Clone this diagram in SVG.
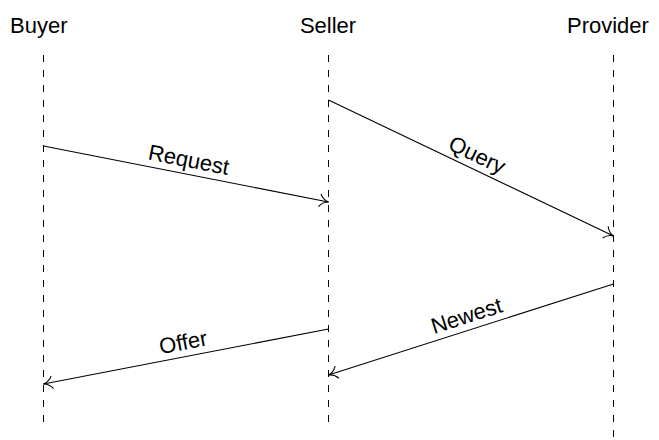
<svg xmlns="http://www.w3.org/2000/svg" width="659" height="440" viewBox="0 0 659 440">
<style>
.title{font-family:"Liberation Sans",Arial,sans-serif;font-size:22px;fill:#000}
.lbl{font-family:"Liberation Sans",Arial,sans-serif;font-size:22px;fill:#000;text-anchor:middle}
.life{stroke:#000;stroke-width:1;stroke-dasharray:7 8;fill:none}
.msg{stroke:#000;stroke-width:1.1;fill:none;marker-end:url(#to)}
</style>
<defs>
<marker id="to" markerUnits="userSpaceOnUse" viewBox="-12 -8 14 16" refX="0" refY="0" markerWidth="14" markerHeight="16" orient="auto" overflow="visible">
<path d="M -9,-6.5 C -7,-3 -3,-0.6 0,0 C -3,0.6 -7,3 -9,6.5" fill="none" stroke="#000" stroke-width="1.1"/>
</marker>
</defs>
<rect width="659" height="440" fill="#fff"/>
<g id="buyer">
<text class="title" x="10" y="33">Buyer</text>
<line class="life" x1="43.5" y1="55" x2="43.5" y2="429"/>
</g>
<g id="seller">
<text class="title" x="328" y="33" text-anchor="middle">Seller</text>
<line class="life" x1="328.5" y1="55" x2="328.5" y2="429"/>
</g>
<g id="provider">
<text class="title" x="567" y="33">Provider</text>
<line class="life" x1="613.5" y1="55" x2="613.5" y2="440"/>
</g>
<g id="connectors">
<line class="msg" x1="43.5" y1="146" x2="328.5" y2="202"/>
<text class="lbl" transform="translate(186,174) rotate(11.12)" x="0" y="-7">Request</text>
<line class="msg" x1="328.5" y1="100" x2="613.5" y2="236"/>
<text class="lbl" transform="translate(471,168) rotate(25.51)" x="0" y="-7">Query</text>
<line class="msg" x1="613.5" y1="284" x2="328.5" y2="375"/>
<text class="lbl" transform="translate(471,329.5) rotate(-17.71)" x="0" y="-7">Newest</text>
<line class="msg" x1="328.5" y1="329" x2="43.5" y2="384"/>
<text class="lbl" transform="translate(186,356.5) rotate(-10.92)" x="0" y="-7">Offer</text>
</g>
</svg>
